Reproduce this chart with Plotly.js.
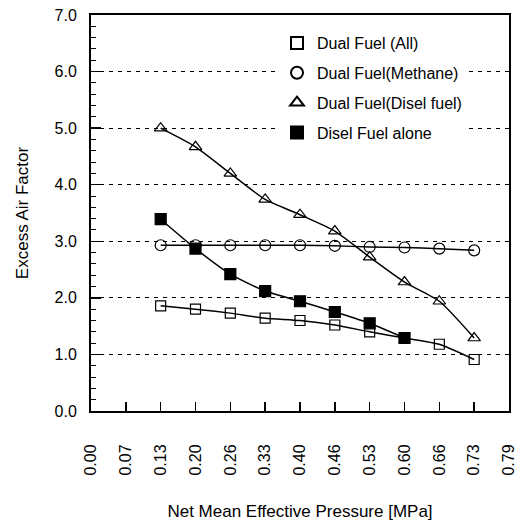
<!DOCTYPE html>
<html><head><meta charset="utf-8">
<script src="https://cdn.plot.ly/plotly-3.0.1.min.js"></script>
<style>body{margin:0;background:#fff}</style>
</head><body><div id="chart" style="width:523px;height:521px"></div>
<script>
const tickLabels = ['0.00','0.07','0.13','0.20','0.26','0.33','0.40','0.46','0.53','0.60','0.66','0.73','0.79'];
const pressure = ['0.13','0.20','0.26','0.33','0.40','0.46','0.53','0.60','0.66','0.73'];
const pressureAlone = ['0.13','0.20','0.26','0.33','0.40','0.46','0.53','0.60'];
const dualAll = [1.86,1.80,1.73,1.64,1.60,1.52,1.40,1.29,1.18,0.91];
const dualMethane = [2.93,2.93,2.93,2.93,2.93,2.92,2.90,2.89,2.87,2.84];
const dualDisel = [5.00,4.67,4.20,3.74,3.47,3.18,2.72,2.28,1.94,1.29];
const diselAlone = [3.39,2.87,2.42,2.12,1.94,1.75,1.55,1.29];
const seriesNames = ['Dual Fuel (All)','Dual Fuel(Methane)','Dual Fuel(Disel fuel)','Disel Fuel alone'];

const FONT = 'Liberation Sans, Arial, sans-serif';
const idx = arr => arr.map(l => tickLabels.indexOf(l));

const series = [
  {x: pressure, y: dualAll, sym: 'square-open', size: 10, name: seriesNames[0]},
  {x: pressure, y: dualMethane, sym: 'circle-open', size: 11, name: seriesNames[1]},
  {x: pressure, y: dualDisel, sym: 'triangle-up-open', size: 11, name: seriesNames[2]},
  {x: pressureAlone, y: diselAlone, sym: 'square', size: 11, name: seriesNames[3]}
];

const traces = [];
series.forEach((s, i) => {
  traces.push({x: idx(s.x), y: s.y, mode: 'lines', line: {color: '#000', width: 1.5, shape: 'spline', smoothing: 0.6},
    showlegend: false, hoverinfo: 'skip'});
});
series.forEach((s, i) => {
  traces.push({x: idx(s.x), y: s.y, mode: 'markers', name: s.name, legendgroup: 'g' + i,
    marker: {symbol: s.sym, size: s.size, color: '#000', line: {color: '#000', width: 1.2}}});
});

const layout = {
  width: 523, height: 521,
  margin: {l: 91, r: 14, t: 15, b: 110},
  paper_bgcolor: '#fff', plot_bgcolor: '#fff',
  font: {family: FONT, size: 16, color: '#000'},
  showlegend: true,
  legend: {x: 0.445, y: 0.972, xanchor: 'left', yanchor: 'top', bgcolor: '#fff', borderwidth: 0,
    font: {family: FONT, size: 16, color: '#000'}, traceorder: 'grouped', tracegroupgap: 6, itemsizing: 'constant'},
  xaxis: {
    range: [0, 12], tickmode: 'array', tickvals: tickLabels.map((l, i) => i), ticktext: tickLabels,
    tickangle: -90, ticks: 'inside', ticklen: 9, tickwidth: 1.5, tickcolor: '#000',
    showline: true, linecolor: '#000', linewidth: 2, mirror: true, showgrid: false, zeroline: false,
    ticklabelstandoff: 25, tickfont: {family: FONT, size: 16},
    title: {text: 'Net Mean Effective Pressure [MPa]', font: {family: FONT, size: 17}, standoff: 32}
  },
  yaxis: {
    range: [0, 7], tickmode: 'array', tickvals: [0,1,2,3,4,5,6,7], ticktext: ['0.0','1.0','2.0','3.0','4.0','5.0','6.0','7.0'],
    ticks: 'inside', ticklen: 10, tickwidth: 1.5, tickcolor: '#000',
    minor: {dtick: 0.2, ticks: 'inside', ticklen: 5, tickwidth: 1, tickcolor: '#000', showgrid: false},
    showline: true, linecolor: '#000', linewidth: 2, mirror: true,
    showgrid: true, gridcolor: '#000', gridwidth: 1, griddash: '4px,5px', zeroline: false,
    ticklabelstandoff: 9, tickfont: {family: FONT, size: 16},
    title: {text: 'Excess Air Factor', font: {family: FONT, size: 17}, standoff: 22}
  }
};

Plotly.newPlot('chart', traces, layout, {displayModeBar: false, staticPlot: true});
</script></body></html>
